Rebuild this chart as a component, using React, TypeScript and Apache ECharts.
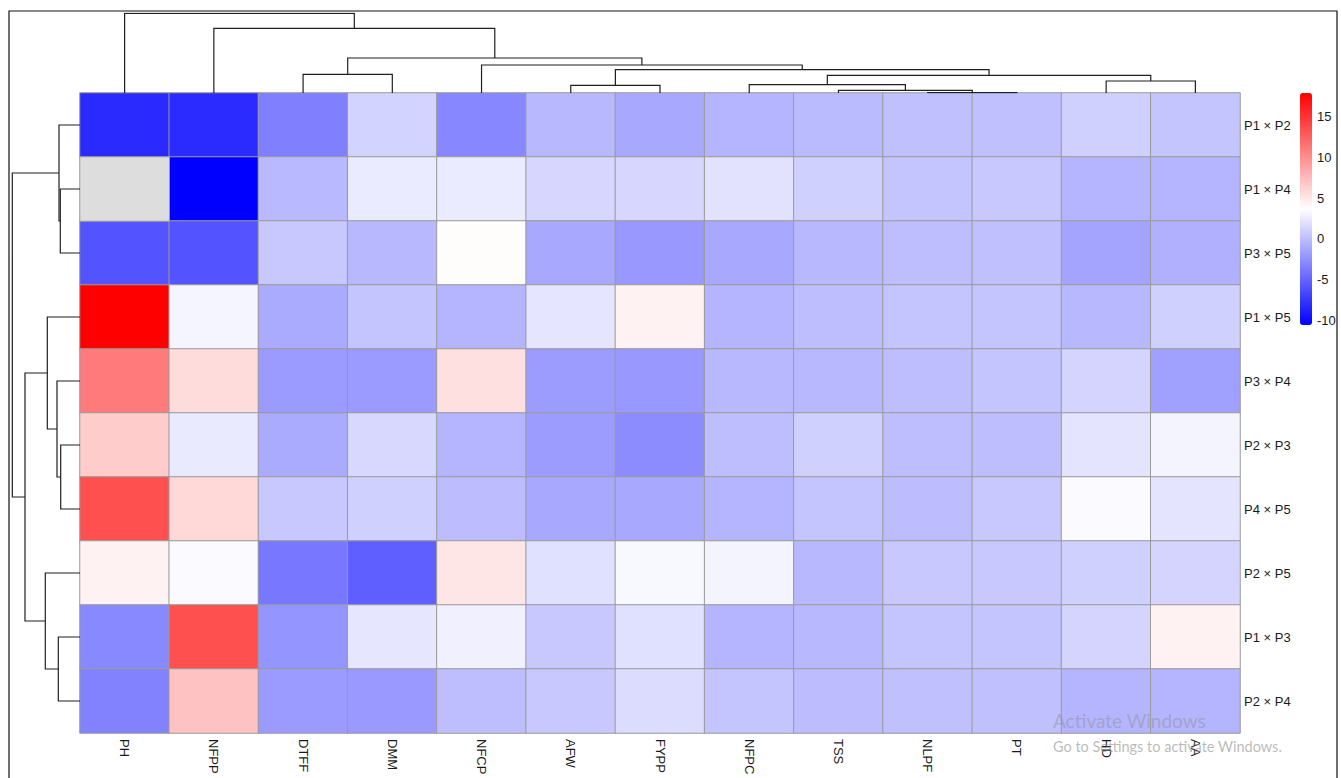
import React, { useEffect, useRef } from "react";
import * as echarts from "echarts";

// ---------- data ----------
const columns = ["PH", "NFPP", "DTFF", "DMM", "NFCP", "AFW", "FYPP", "NFPC", "TSS", "NLPF", "PT", "HD", "AA"];
const rowNames = ["P1 × P2", "P1 × P4", "P3 × P5", "P1 × P5", "P3 × P4", "P2 × P3", "P4 × P5", "P2 × P5", "P1 × P3", "P2 × P4"];

const rowP1P2 = [-8.25, -8.2, -3.45, 1.19, -3.06, -0.32, -1.21, -0.54, -0.21, 0.13, 0.13, 1.02, 0.35];
const rowP1P4 = [null, -10.6, -0.26, 2.53, 2.53, 1.36, 1.36, 2.03, 1.02, 0.35, 0.58, -0.54, -0.54];
const rowP3P5 = [-5.96, -5.96, 0.58, -0.32, 3.82, -1.21, -2.11, -1.21, -0.32, 0.02, 0.13, -1.44, -0.77];
const rowP1P5 = [17.9, 3.09, -1.1, 0.35, -0.54, 2.2, 4.38, -0.54, 0.02, 0.35, 0.35, -0.32, 1.02];
const rowP3P4 = [11.08, 5.61, -1.99, -1.99, 5.38, -1.88, -2.11, -0.32, -0.32, 0.02, 0.35, 1.25, -1.66];
const rowP2P3 = [6.5, 2.48, -1.1, 1.47, -0.54, -1.88, -2.78, 0.02, 1.02, 0.02, 0.02, 2.14, 3.03];
const rowP4P5 = [13.43, 5.83, 0.58, 1.02, -0.1, -1.21, -1.21, -0.54, 0.35, -0.1, 0.58, 3.37, 2.14];
const rowP2P5 = [4.38, 3.37, -3.95, -5.29, 5.05, 1.92, 3.26, 3.03, -0.32, 0.58, 0.58, 1.02, 1.25];
const rowP1P3 = [-3.0, 13.43, -2.27, 2.25, 2.81, 0.58, 1.92, -0.54, -0.32, 0.35, 0.35, 1.25, 4.38];
const rowP2P4 = [-3.34, 7.06, -1.99, -2.05, 0.02, 0.58, 1.69, 0.35, -0.1, 0.13, 0.13, -0.54, -0.54];
const rowValues = [rowP1P2, rowP1P4, rowP3P5, rowP1P5, rowP3P4, rowP2P3, rowP4P5, rowP2P5, rowP1P3, rowP2P4];

const scaleMin = -10.6;
const scaleMax = 17.9;
const legendTicks = [-10, -5, 0, 5, 10, 15];

// hclust-style merges: negative = leaf (index+1), positive = earlier merge (1-based); third = height
const colMerges = [
  [-10, -11, 0.3],
  [-9, 1, 2.7],
  [-6, -7, 7.7],
  [-8, 2, 8.3],
  [-12, -13, 12],
  [4, 5, 17.7],
  [-3, -4, 18.7],
  [3, 6, 23.3],
  [-5, 8, 28],
  [7, 9, 35],
  [-2, 10, 64.7],
  [-1, 11, 79.7],
];
const rowMerges = [
  [-2, -3, 19.7],
  [-6, -7, 19.3],
  [-1, 1, 21],
  [-9, -10, 21.7],
  [-5, 2, 23],
  [-4, 5, 32.7],
  [-8, 4, 34.7],
  [6, 7, 55],
  [3, 8, 67.7],
];

function buildDendro(merges: number[][]) {
  const pos: number[] = [];
  const hgt: number[] = [];
  const segs: number[][][] = [];
  const get = (k: number) => (k < 0 ? [-k - 1 + 0.5, 0] : [pos[k - 1], hgt[k - 1]]);
  merges.forEach(([a, b, h]) => {
    const [pa, ha] = get(a);
    const [pb, hb] = get(b);
    segs.push([[pa, ha], [pa, h], [pb, h], [pb, hb]]);
    pos.push((pa + pb) / 2);
    hgt.push(h);
  });
  return segs;
}

const FONT = "'Liberation Sans', Arial, sans-serif";
const TXT = "#1a1a1a";
const DLINE = { color: "#1f1f1f", width: 1.2, opacity: 1 };

export default function App() {
  const ref = useRef<HTMLDivElement>(null);
  useEffect(() => {
    if (!ref.current) return;
    const chart = echarts.init(ref.current, null, { renderer: "svg" });

    const heatData: any[] = [];
    const naData: any[] = [];
    rowValues.forEach((row, r) =>
      row.forEach((v, c) => {
        if (v === null) naData.push([c, r, 0]);
        else heatData.push([c, r, v]);
      })
    );

    const topSegs = buildDendro(colMerges).map((s) => ({ coords: s }));
    const leftSegs = buildDendro(rowMerges).map((s) => ({ coords: s.map(([p, h]) => [h, p]) }));

    const option: any = {
      animation: false,
      backgroundColor: "#ffffff",
      textStyle: { fontFamily: FONT },
      grid: [
        { left: 80, top: 93, width: 1160, height: 640 },
        { left: 80, top: 13, width: 1160, height: 80 },
        { left: 0, top: 93, width: 80, height: 640 },
        { left: 1300, top: 93, width: 12, height: 232 },
      ],
      xAxis: [
        {
          type: "category",
          gridIndex: 0,
          data: columns,
          position: "bottom",
          axisLine: { show: false },
          axisTick: { show: false },
          splitLine: { show: false },
          axisLabel: { interval: 0, rotate: -90, margin: 6, fontSize: 13, color: TXT, fontFamily: FONT },
        },
        { type: "value", gridIndex: 1, min: 0, max: columns.length, show: false },
        { type: "value", gridIndex: 2, min: 0, max: 80, inverse: true, show: false },
        { type: "value", gridIndex: 3, min: 0, max: 1, show: false },
      ],
      yAxis: [
        {
          type: "category",
          gridIndex: 0,
          data: rowNames,
          inverse: true,
          position: "right",
          axisLine: { show: false },
          axisTick: { show: false },
          splitLine: { show: false },
          axisLabel: { margin: 4, fontSize: 13, color: TXT, fontFamily: FONT },
        },
        { type: "value", gridIndex: 1, min: 0, max: 80, show: false },
        { type: "value", gridIndex: 2, min: 0, max: rowNames.length, inverse: true, show: false },
        {
          type: "value",
          gridIndex: 3,
          min: scaleMin,
          max: scaleMax,
          position: "right",
          axisLine: { show: false },
          axisTick: { show: false },
          splitLine: { show: false },
          axisLabel: { customValues: legendTicks, margin: 5, fontSize: 13, color: TXT, fontFamily: FONT },
        },
      ],
      visualMap: [
        {
          type: "continuous",
          seriesIndex: 0,
          dimension: 2,
          min: scaleMin,
          max: scaleMax,
          calculable: false,
          show: true,
          orient: "vertical",
          left: 1300,
          top: 93,
          padding: 0,
          itemWidth: 12,
          itemHeight: 232,
          text: null,
          inRange: { color: ["#0000FF", "#FFFFFF", "#FF0000"] },
        },
        {
          type: "continuous",
          seriesIndex: 1,
          dimension: 2,
          min: 0,
          max: 1,
          show: false,
          inRange: { color: ["#DDDDDD", "#DDDDDD"] },
        },
      ],
      series: [
        {
          type: "heatmap",
          xAxisIndex: 0,
          yAxisIndex: 0,
          data: heatData,
          itemStyle: { borderColor: "#9a9a9a", borderWidth: 1 },
          emphasis: { disabled: true },
          silent: true,
        },
        {
          type: "heatmap",
          xAxisIndex: 0,
          yAxisIndex: 0,
          data: naData,
          itemStyle: { borderColor: "#9a9a9a", borderWidth: 1 },
          emphasis: { disabled: true },
          silent: true,
        },
        {
          type: "lines",
          coordinateSystem: "cartesian2d",
          xAxisIndex: 1,
          yAxisIndex: 1,
          polyline: true,
          silent: true,
          lineStyle: DLINE,
          data: topSegs,
        },
        {
          type: "lines",
          coordinateSystem: "cartesian2d",
          xAxisIndex: 2,
          yAxisIndex: 2,
          polyline: true,
          silent: true,
          lineStyle: DLINE,
          data: leftSegs,
        },
      ],
      graphic: [
        {
          type: "rect",
          shape: { x: 9, y: 11, width: 1328, height: 800 },
          style: { fill: "none", stroke: "#111", lineWidth: 1.2 },
          silent: true,
          z: 100,
        },
        {
          type: "text",
          x: 1053,
          y: 711,
          z: 200,
          silent: true,
          style: { text: "Activate Windows", fontSize: 19, fontFamily: "Lato, 'Open Sans', sans-serif", fill: "rgba(140,140,140,0.45)" },
        },
        {
          type: "text",
          x: 1053,
          y: 739,
          z: 200,
          silent: true,
          style: { text: "Go to Settings to activate Windows.", fontSize: 14.5, fontFamily: "Lato, 'Open Sans', sans-serif", fill: "rgba(140,140,140,0.6)" },
        },
      ],
    };
    chart.setOption(option);
    return () => chart.dispose();
  }, []);

  return (
    <div
      ref={ref}
      style={{ position: "fixed", left: 0, top: 0, width: 1341, height: 778, background: "#fff" }}
    />
  );
}
